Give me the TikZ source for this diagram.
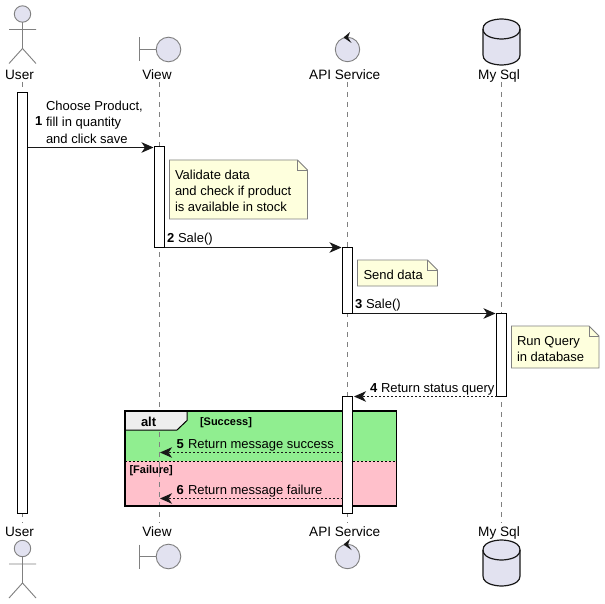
\documentclass[tikz,border=0pt]{standalone}
\usepackage{fontspec}
\setmainfont{Liberation Sans}
\usetikzlibrary{arrows.meta}
\definecolor{partfill}{HTML}{E2E2F0}
\definecolor{linegray}{HTML}{808080}
\definecolor{darkline}{HTML}{181818}
\definecolor{notefill}{HTML}{FEFFDD}
\definecolor{altgreen}{HTML}{90EE90}
\definecolor{altpink}{HTML}{FFC0CB}
\definecolor{tabfill}{HTML}{EEEEEE}
\newcommand{\lns}[1]{\renewcommand{\arraystretch}{1}\begin{tabular}[t]{@{}l@{}}#1\end{tabular}}
\tikzset{
  x=1pt,y=-1pt,
  txt/.style={anchor=base west,inner sep=0pt,outer sep=0pt,text=black,font=\fontsize{13}{16.4}\selectfont},
  lbl/.style={anchor=base,inner sep=0pt,outer sep=0pt,text=black,font=\fontsize{13.6}{16}\selectfont},
  num/.style={txt,font=\fontsize{13}{16}\selectfont\bfseries},
  grp/.style={txt,font=\fontsize{11}{13}\selectfont\bfseries},
  lifeline/.style={draw=linegray,line width=0.8pt,dash pattern=on 5pt off 5pt},
  actbox/.style={draw=black,fill=white,line width=1pt,minimum width=10pt,inner sep=0pt,outer sep=0pt},
  msg/.style={draw=darkline,line width=1pt,-{Stealth[length=12pt,width=10.5pt,inset=3.5pt]}},
  ret/.style={msg,dash pattern=on 2pt off 2pt},
  notebox/.style={draw=linegray,fill=notefill,line width=0.8pt},
  iconline/.style={draw=linegray,line width=0.9pt},
  iconfill/.style={iconline,fill=partfill},
  pics/actoricon/.style={code={
    \draw[iconfill] (0,-34.5) circle[radius=8.2];
    \draw[iconline] (0,-26.3) -- (0,0) (-13.5,-19) -- (13.5,-19) (-13.5,15) -- (0,0) -- (13.5,15);
  }},
  pics/boundaryicon/.style={code={
    \draw[iconline] (-29,-12) -- (-29,12) (-29,0) -- (-12.5,0);
    \draw[iconfill] (0,0) circle[radius=12.3];
  }},
  pics/controlicon/.style={code={
    \draw[iconfill] (0,0) circle[radius=12.2];
    \fill[darkline] (-4,-12) -- (2.5,-17.5) -- (0.5,-12) -- (4,-6.5) -- cycle;
  }},
  pics/dbicon/.style={code={
    \draw[draw=darkline,fill=partfill,line width=1.2pt] (-18.5,10) .. controls (-18.5,0) and (0,0) .. (0,0) .. controls (0,0) and (18.5,0) .. (18.5,10) -- (18.5,36) .. controls (18.5,46) and (0,46) .. (0,46) .. controls (0,46) and (-18.5,46) .. (-18.5,36) -- cycle;
    \draw[draw=darkline,line width=1.2pt] (-18.5,10) .. controls (-18.5,20) and (0,20) .. (0,20) .. controls (0,20) and (18.5,20) .. (18.5,10);
  }},
}
\begin{document}
\begin{tikzpicture}
\useasboundingbox (0,0) rectangle (605,604);
\fill[white] (0,0) rectangle (605,604);

% lifeline end points
\coordinate (ut) at (22.5,82);  \coordinate (ub) at (22.5,523);
\coordinate (vt) at (159,82);   \coordinate (vb) at (159,523);
\coordinate (at) at (347.5,82); \coordinate (ab) at (347.5,523);
\coordinate (dt) at (501.5,82); \coordinate (db) at (501.5,523);

% alt backgrounds
\fill[altgreen] (125,411) rectangle (396.5,461);
\fill[altpink] (125,461) rectangle (396.5,506);

% lifelines
\draw[lifeline] (ut) -- (ub);
\draw[lifeline] (vt) -- (vb);
\draw[lifeline] (at) -- (ab);
\draw[lifeline] (dt) -- (db);

% participants, top
\pic at (22.5,48.5) {actoricon};
\pic at (168.5,49.5) {boundaryicon};
\pic at (347.5,49.5) {controlicon};
\pic at (501.5,19) {dbicon};
\node[lbl] (userT) at (19.5,79.8) {User};
\node[lbl] (viewT) at (157,79.8) {View};
\node[lbl] (apiT) at (344.7,79.8) {API Service};
\node[lbl] (sqlT) at (499,79.8) {My Sql};

% participants, bottom
\node[lbl] (userB) at (19.5,536.7) {User};
\node[lbl] (viewB) at (157,536.7) {View};
\node[lbl] (apiB) at (344.7,536.7) {API Service};
\node[lbl] (sqlB) at (499,536.7) {My Sql};
\pic at (22.5,583) {actoricon};
\pic at (168.5,556.5) {boundaryicon};
\pic at (347.5,556.5) {controlicon};
\pic at (501.5,540) {dbicon};

% alt frame
\draw[black,line width=0.8pt,dash pattern=on 2pt off 2pt] (125,461) -- (396.5,461);
\draw[draw=black,fill=tabfill,line width=1pt] (125,411) -- (187,411) -- (187,420.5) -- (177,430) -- (125,430) -- cycle;
\draw[black,line width=1.5pt] (125,411) rectangle (396.5,506);
\node[txt,font=\fontsize{13}{16}\selectfont\bfseries] (altL) at (141,426.5) {alt};
\node[grp] (succL) at (200,425) {[Success]};
\node[grp] (failL) at (129.5,473) {[Failure]};

% activations
\node[actbox,minimum height=420pt] (a1) at (22.5,303) {};
\node[actbox,minimum height=100pt] (a2) at (159.5,197) {};
\node[actbox,minimum height=66pt] (a3) at (347.5,280) {};
\node[actbox,minimum height=83pt] (a4) at (501.5,354.5) {};
\node[actbox,minimum height=117pt] (a5) at (347.5,454.5) {};

% notes
\draw[notebox] (169.5,160) -- (297.5,160) -- (307.5,170) -- (307.5,219) -- (169.5,219) -- cycle;
\draw[iconline,line width=0.8pt] (297.5,160) -- (297.5,170) -- (307.5,170);
\node[txt] (n1) at (175,179.2) {\lns{Validate data\\and check if product\\is available in stock}};
\draw[notebox] (357.5,260) -- (427.5,260) -- (437.5,270) -- (437.5,286) -- (357.5,286) -- cycle;
\draw[iconline,line width=0.8pt] (427.5,260) -- (427.5,270) -- (437.5,270);
\node[txt] (n2) at (363.5,279) {Send data};
\draw[notebox] (511.5,326) -- (589,326) -- (599,336) -- (599,368) -- (511.5,368) -- cycle;
\draw[iconline,line width=0.8pt] (589,326) -- (589,336) -- (599,336);
\node[txt] (n3) at (517,345) {\lns{Run Query\\in database}};

% messages
\coordinate (y1) at (0,147.5);
\coordinate (y2) at (0,247.5);
\coordinate (y3) at (0,313.5);
\coordinate (y4) at (0,396.5);
\coordinate (y5) at (0,452.5);
\coordinate (y6) at (0,498.5);
\draw[msg] (a1.east |- y1) -- ([xshift=-1pt]a2.west |- y1);
\draw[msg] (a2.east |- y2) -- ([xshift=-1pt]a3.west |- y2);
\draw[msg] (a3.east |- y3) -- ([xshift=-1pt]a4.west |- y3);
\draw[ret] (a4.west |- y4) -- ([xshift=1.5pt]a5.east |- y4);
\draw[ret] (a5.west |- y5) -- ([xshift=1pt]vt |- y5);
\draw[ret] (a5.west |- y6) -- ([xshift=1pt]vt |- y6);

% message labels
\node[num] (m1n) at (35,126) {1};
\node[txt] (m1) at (46,110.5) {\lns{Choose Product,\\fill in quantity\\and click save}};
\node[num] (m2n) at (167,242) {2};
\node[txt] (m2) at (178,242) {Sale()};
\node[num] (m3n) at (355,308) {3};
\node[txt] (m3) at (366,308) {Sale()};
\node[num] (m4n) at (370,392) {4};
\node[txt] (m4) at (381,392) {Return status query};
\node[num] (m5n) at (176.5,448) {5};
\node[txt] (m5) at (188,448) {Return message success};
\node[num] (m6n) at (176.5,494) {6};
\node[txt] (m6) at (188,494) {Return message failure};
\end{tikzpicture}
\end{document}
